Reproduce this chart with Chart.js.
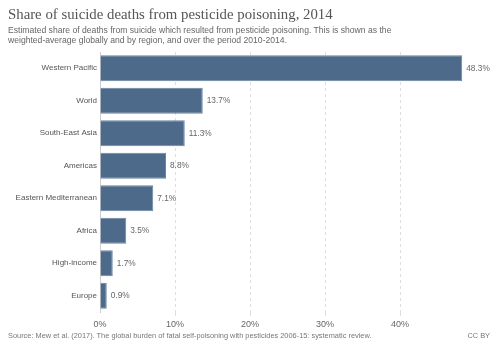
<!DOCTYPE html>
<html>
<head>
<meta charset="utf-8">
<script src="https://cdn.jsdelivr.net/npm/chart.js@4"></script>
<style>
  body { margin: 0; background: #fff; font-family: "Liberation Sans", Arial, sans-serif; }
  #wrap { position: relative; width: 500px; height: 353px; overflow: hidden; }
  #title { position: absolute; left: 8px; top: 6px; font-family: "Liberation Serif", serif; font-size: 14.8px; color: #555; }
  #sub { position: absolute; left: 8px; top: 25px; font-size: 8.6px; line-height: 10px; color: #666; width: 390px; }
  #src { position: absolute; left: 8px; top: 331px; font-size: 7.4px; color: #777; }
  #cc { position: absolute; right: 10px; top: 331px; font-size: 7.4px; color: #777; }
  canvas { position: absolute; left: 0; top: 0; }
</style>
</head>
<body>
<div id="wrap">
  <canvas id="chart" width="500" height="353"></canvas>
  <div id="title">Share of suicide deaths from pesticide poisoning, 2014</div>
  <div id="sub">Estimated share of deaths from suicide which resulted from pesticide poisoning. This is shown as the weighted-average globally and by region, and over the period 2010-2014.</div>
  <div id="src">Source: Mew et al. (2017). The global burden of fatal self-poisoning with pesticides 2006-15: systematic review.</div>
  <div id="cc">CC BY</div>
</div>
<script>
// data
var regions = ["Western Pacific", "World", "South-East Asia", "Americas", "Eastern Mediterranean", "Africa", "High-income", "Europe"];
var shares = [48.3, 13.7, 11.3, 8.8, 7.1, 3.5, 1.7, 0.9];
var xTicks = [0, 10, 20, 30, 40];

// value labels after each bar
var valueLabels = {
  id: "valueLabels",
  afterDraw: chart => {
    var ctx = chart.ctx;
    ctx.save();
    ctx.font = "8.3px 'Liberation Sans', Arial, sans-serif";
    ctx.fillStyle = "#666";
    ctx.textBaseline = "middle";
    chart.getDatasetMeta(0).data.forEach((bar, i) => {
      ctx.fillText(shares[i] + "%", bar.x + 4, bar.y);
    });
    ctx.restore();
  }
};

new Chart(document.getElementById("chart"), {
  type: "bar",
  data: {
    labels: regions,
    datasets: [{
      data: shares,
      backgroundColor: "#4d6a8a",
      borderColor: "#6a86a4",
      borderWidth: 1,
      barPercentage: 1,
      categoryPercentage: 0.8
    }]
  },
  options: {
    indexAxis: "y",
    responsive: false,
    animation: false,
    layout: { padding: { top: 52, right: 25, left: 0, bottom: 20 } },
    plugins: { legend: { display: false }, tooltip: { enabled: false } },
    scales: {
      x: {
        min: 0,
        max: 50,
        z: 1,
        afterBuildTicks: s => { s.ticks = xTicks.map(v => ({ value: v })); },
        afterFit: s => { s.height = 21; },
        grid: {
          color: c => c.tick && c.tick.value === 0 ? "rgba(0,0,0,0)" : "rgba(0,0,0,0.13)",
          tickLength: 4
        },
        border: { display: false, dash: [3, 3] },
        ticks: {
          padding: 3,
          color: "#666",
          font: { size: 9, family: "'Liberation Sans', Arial, sans-serif" },
          callback: v => v + "%"
        }
      },
      y: {
        afterFit: s => { s.width = 100; },
        grid: { display: false, drawTicks: false },
        border: { display: true, color: "#ccc" },
        ticks: {
          padding: 3,
          color: "#555",
          font: { size: 8, family: "'Liberation Sans', Arial, sans-serif" }
        }
      }
    }
  },
  plugins: [valueLabels]
});
</script>
</body>
</html>
